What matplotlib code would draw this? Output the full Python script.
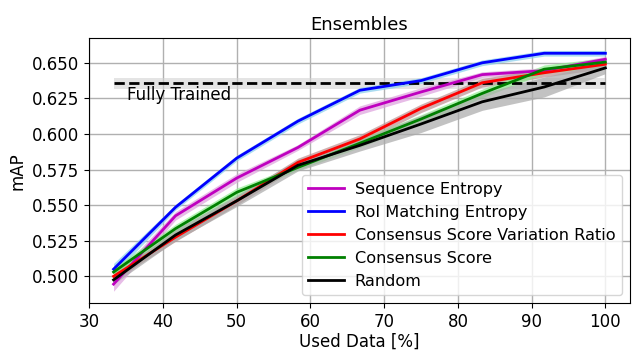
import matplotlib
matplotlib.use("Agg")
import matplotlib.pyplot as plt
import numpy as np

# Anteil der verwendeten Daten [%]
used_data = [33.3, 41.7, 50.0, 58.3, 66.7, 75.0, 83.3, 91.7, 100.0]

seq_entropy = [0.4945, 0.5425, 0.569, 0.5905, 0.6167, 0.6295, 0.6417, 0.6445, 0.6525]
seq_entropy_std = [0.005, 0.003, 0.003, 0.002, 0.003, 0.003, 0.002, 0.002, 0.002]

roi_entropy = [0.505, 0.5485, 0.583, 0.609, 0.6307, 0.6375, 0.650, 0.6567, 0.6567]
roi_entropy_std = [0.004, 0.002, 0.002, 0.002, 0.002, 0.002, 0.002, 0.002, 0.002]

cs_var_ratio = [0.500, 0.5275, 0.553, 0.580, 0.5965, 0.618, 0.636, 0.643, 0.649]
cs_var_ratio_std = [0.003, 0.003, 0.003, 0.003, 0.003, 0.003, 0.003, 0.003, 0.003]

cons_score = [0.503, 0.5335, 0.559, 0.5765, 0.5935, 0.6105, 0.6285, 0.6455, 0.6505]
cons_score_std = [0.003, 0.003, 0.003, 0.002, 0.003, 0.003, 0.003, 0.003, 0.003]

random_sel = [0.4975, 0.529, 0.553, 0.578, 0.592, 0.607, 0.6226, 0.633, 0.6464]
random_sel_std = [0.003, 0.004, 0.004, 0.004, 0.004, 0.006, 0.006, 0.007, 0.004]

fully_trained = 0.6355
fully_trained_std = 0.004

series = [
    ("Sequence Entropy", seq_entropy, seq_entropy_std, "m", "plum"),
    ("RoI Matching Entropy", roi_entropy, roi_entropy_std, "b", "skyblue"),
    ("Consensus Score Variation Ratio", cs_var_ratio, cs_var_ratio_std, "r", "rosybrown"),
    ("Consensus Score", cons_score, cons_score_std, "g", "lightgreen"),
    ("Random", random_sel, random_sel_std, "k", "darkgrey"),
]

fig, ax = plt.subplots(figsize=(6.32, 3.52), dpi=100)
fig.subplots_adjust(left=0.1408, right=0.9968, top=0.891, bottom=0.1384)

x = np.array(used_data)

# Referenzlinie: vollständig trainiertes Modell
ax.fill_between([x[0], x[-1]], fully_trained - fully_trained_std,
                fully_trained + fully_trained_std, color="lightgrey", alpha=0.6, lw=0)
ax.plot([x[0], x[-1]], [fully_trained, fully_trained], "k--", lw=2)
ax.text(35.1, 0.6238, "Fully Trained", fontsize=12, va="baseline")

for label, mean, std, color, fill in series:
    mean = np.array(mean)
    std = np.array(std)
    ax.fill_between(x, mean - std, mean + std, color=fill, alpha=0.7, lw=0)

for label, mean, std, color, fill in series:
    ax.plot(x, mean, color=color, lw=2, label=label)

ax.set_title("Ensembles", fontsize=13)
ax.set_xlabel("Used Data [%]", fontsize=12, labelpad=1.5)
ax.set_ylabel("mAP", fontsize=12)
ax.set_xticks([30, 40, 50, 60, 70, 80, 90, 100])
ax.set_yticks([0.500, 0.525, 0.550, 0.575, 0.600, 0.625, 0.650])
ax.tick_params(labelsize=12)
ax.grid(True, color="#b0b0b0", lw=1)
ax.set_axisbelow(True)
ax.legend(loc="lower right", fontsize=11.6, handlelength=2.2,
          labelspacing=0.5, handletextpad=0.7)

plt.savefig("out.png")
plt.close()
